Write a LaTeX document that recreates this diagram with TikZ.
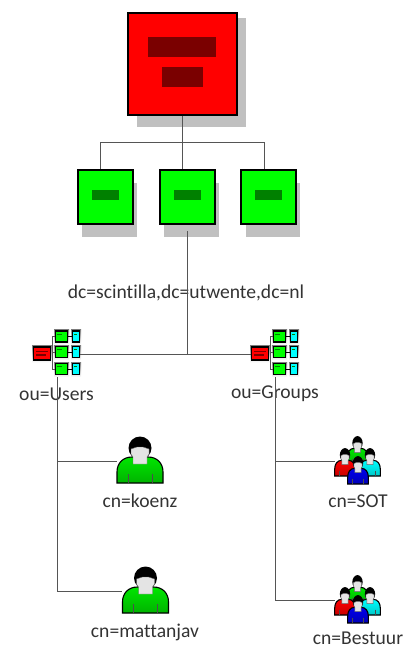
\documentclass[tikz,border=0pt]{standalone}
\usepackage{fontspec}
\setmainfont{Carlito}[Ligatures={NoCommon}]
\definecolor{txt}{HTML}{333333}
\definecolor{wire}{HTML}{555555}
\definecolor{shade}{HTML}{C0C0C0}
\definecolor{dred}{HTML}{7A0000}
\definecolor{dgreen}{HTML}{008000}
\definecolor{skin}{HTML}{E4E4E4}
\definecolor{pgreen}{RGB}{0,230,0}
\definecolor{pred}{RGB}{255,0,0}
\definecolor{pcyan}{RGB}{0,255,255}
\definecolor{pblue}{RGB}{0,0,235}
\definecolor{boxgreen}{RGB}{0,255,0}
\definecolor{boxcyan}{RGB}{0,255,255}
\tikzset{
  wireline/.style={draw=wire,line width=1pt},
  label text/.style={text=txt,font=\fontsize{19.6}{22}\selectfont,inner sep=0pt},
  tbox/.style={draw=black,line width=2pt,inner sep=0pt,anchor=center},
  rootbox/.style={tbox,fill=red,minimum width=109pt,minimum height=102pt},
  dcbox/.style={tbox,fill=boxgreen,minimum width=55pt,minimum height=54pt},
  sbox/.style={draw=black,line width=1.6pt,inner sep=0pt},
  shadowbox/.style={fill=shade,draw=none},
  person/.pic={
    \fill[black] (0,0) circle[x radius=11.5,y radius=11.5];
    \path[top color=#1,bottom color=#1!78!black,draw=black,line width=1.1pt]
      (-23,35) -- (-23,24) .. controls (-23,15) and (-17,9) .. (-8,9)
      -- (8,9) .. controls (17,9) and (23,15) .. (23,24) -- (23,35) -- cycle;
    \draw[black!70,line width=.7pt] (-12,26) -- (-12,35) (12,26) -- (12,35);
    \fill[skin,draw=black!60,line width=.4pt] (-9,1) -- (-3,-1) -- (3,-1) -- (9,1) -- (9,6) -- (7,9) -- (7,16) -- (-7,16) -- (-7,9) -- (-9,6) -- cycle;
  },
  ouicon/.pic={
    \fill[shade] (-10,-8) rectangle (11,9);
    \foreach \n/\y in {a/-17,b/-1.5,c/15.5}{
      \fill[shade] (12,\y-7) rectangle (27,\y+8);
      \fill[shade] (29,\y-7) rectangle (39,\y+8);
    }
    \draw[wire,line width=.9pt] (10,-17) -- (10,15.5);
    \foreach \n/\y in {a/-17,b/-1.5,c/15.5}{
      \node[sbox,fill=boxgreen,minimum width=12pt,minimum height=11pt] (-g\n) at (19.5,\y) {};
      \node[sbox,fill=boxcyan,minimum width=7pt,minimum height=11pt] (-c\n) at (34,\y) {};
      \draw[black,line width=.9pt] (-g\n) -- (-c\n);
      \draw[wire,line width=.9pt] (10,\y) -- (-g\n.west);
      \fill[dgreen] (15,\y-3) rectangle (20,\y-2);
      \fill[dgreen] (32,\y-3) rectangle (35,\y-2);
    }
    \node[sbox,fill=red,minimum width=17pt,minimum height=13pt] (-red) at (0,0) {};
    \fill[dred] (-6,-2.5) rectangle (6,-1.3);
    \fill[dred] (-6,.8) rectangle (4,2);
  }
}
\begin{document}
\begin{tikzpicture}[x=1pt,y=-1pt]
\useasboundingbox (0,0) rectangle (405,648);
% shadows
\fill[shadowbox] (137,18) rectangle (246,127);
\fill[shadowbox] (82,183) rectangle (137,237);
\fill[shadowbox] (164,183) rectangle (219,237);
\fill[shadowbox] (246,183) rectangle (300,237);
% top tree
\coordinate (j1) at (100,169);
\coordinate (j2) at (182,169);
\coordinate (j3) at (264,169);
\coordinate (busr) at (264,142);
\coordinate (d2out) at (187,231);
\coordinate (trunk) at (187,354);
\draw[wireline] (182,115) -- (j2);
\draw[wireline] (j1) |- (busr) -- (j3);
% boxes
\node[rootbox] (root) at (182,63.5) {};
\fill[dred] (148,37) rectangle (216,57);
\fill[dred] (162,67) rectangle (203,87);
\node[dcbox] (d1) at (105,197) {};
\node[dcbox] (d2) at (187,197) {};
\node[dcbox] (d3) at (268.5,197) {};
\foreach \x in {105,187,268.5}{\fill[dgreen] (\x-13.5,190) rectangle (\x+13.5,200);}
% labels behind lines
\node[label text] (dclabel) at (186,293) {dc=scintilla,dc=utwente,dc=nl};
\node[label text] (ulabel) at (56.5,394) {ou=Users};
\node[label text] (glabel) at (275,394) {ou=Groups};
% trunk
\draw[wireline] (d2out) -- (trunk);
% ou icons
\pic (users) at (42,353.5) {ouicon};
\pic (groups) at (260,353.5) {ouicon};
\draw[wireline] (users-cb.east |- trunk) -- (groups-red.west |- trunk);
% user and group tree
\coordinate (ub) at (57,377);
\coordinate (gb) at (275,377);
\coordinate (pk) at (117,461);
\coordinate (pm) at (122,591);
\coordinate (ps) at (335,461);
\coordinate (pb) at (335,600);
\draw[wireline] (ub) |- (pm);
\draw[wireline] (ub |- pk) -- (pk);
\draw[wireline] (gb) |- (pb);
\draw[wireline] (gb |- ps) -- (ps);
% persons
\pic at (140,448) {person=pgreen};
\pic at (145.5,578) {person=pgreen};
\foreach \ox/\oy in {0/0,0/139}{
  \begin{scope}[shift={(\ox,\oy)}]
  \pic[xscale=.45,yscale=.6] at (357.5,443) {person=pgreen};
  \pic[xscale=.45,yscale=.6] at (345,455) {person=pred};
  \pic[xscale=.45,yscale=.6] at (370,455) {person=pcyan};
  \pic[xscale=.45,yscale=.6] at (358,463) {person=pblue};
  \end{scope}
}
\node[label text] (koenz) at (140,501) {cn=koenz};
\node[label text] (matt) at (145,632) {cn=mattanjav};
\node[label text] (sot) at (358,501) {cn=SOT};
\node[label text] (best) at (358,638.5) {cn=Bestuur};
\end{tikzpicture}
\end{document}
